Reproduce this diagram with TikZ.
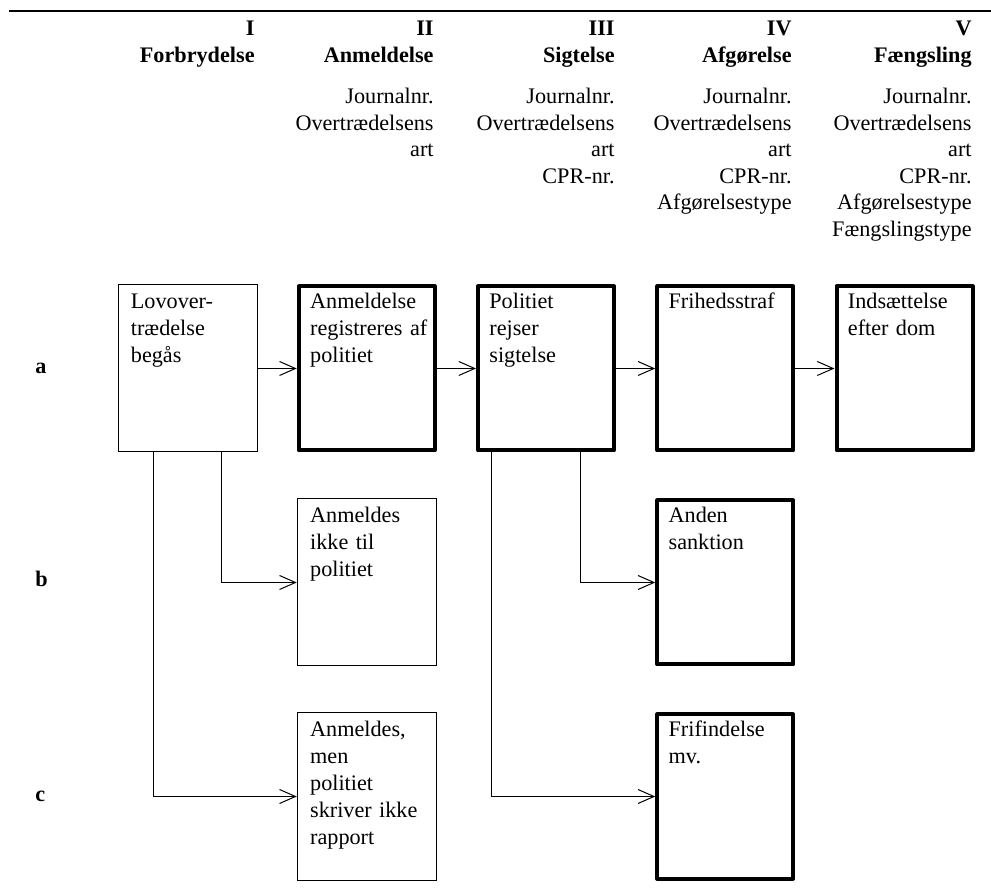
\documentclass[tikz,border=0pt]{standalone}
\usepackage{fontspec}
\setmainfont{Liberation Serif}
\usetikzlibrary{arrows.meta}
\begin{document}
\begin{tikzpicture}[x=0.5pt,y=-0.5pt,
  every node/.style={font=\fontsize{11.1}{13.4}\selectfont, inner sep=0pt},
  thinbox/.style={draw, line width=0.5pt, minimum width=69.5pt, minimum height=83.5pt},
  thickbox/.style={draw, line width=2pt, line join=round, minimum width=68pt, minimum height=82pt},
  boxtext/.style={anchor=base west, text width=64pt, align=left},
  head/.style={anchor=base east, text width=80pt, align=right, font=\fontsize{11.1}{13.5}\selectfont\bfseries},
  info/.style={anchor=base east, text width=80pt, align=right, font=\fontsize{11.1}{13.25}\selectfont},
  rowlab/.style={anchor=base west, font=\fontsize{11.1}{13.4}\selectfont\bfseries},
  conn/.style={line width=0.5pt, -{Straight Barb[length=8pt,width=7pt]}}
]
\useasboundingbox (0,0) rectangle (991,892);
% top rule
\coordinate (rl) at (9,11);
\coordinate (rr) at (991,11);
\draw[line width=1pt] (rl) -- (rr);

% headers
\node[head] (h1) at (255,36) {I\\Forbrydelse};
\node[head] (h2) at (434,36) {II\\Anmeldelse};
\node[head] (h3) at (615,36) {III\\Sigtelse};
\node[head] (h4) at (792,36) {IV\\Afgørelse};
\node[head] (h5) at (972,36) {V\\Fængsling};

\node[info] (i2) at (434,104) {Journalnr.\\Overtrædelsens\\art};
\node[info] (i3) at (615,104) {Journalnr.\\Overtrædelsens\\art\\CPR-nr.};
\node[info] (i4) at (792,104) {Journalnr.\\Overtrædelsens\\art\\CPR-nr.\\Afgørelsestype};
\node[info] (i5) at (972,104) {Journalnr.\\Overtrædelsens\\art\\CPR-nr.\\Afgørelsestype\\Fængslingstype};

% row labels
\node[rowlab] (ra) at (35,374) {a};
\node[rowlab] (rb) at (35,587) {b};
\node[rowlab] (rc) at (35,801) {c};

% boxes
\node[thinbox]  (a1) at (187.5,368.5) {};
\node[thickbox] (a2) at (366.75,368.5) {};
\node[thickbox] (a3) at (546,368.5) {};
\node[thickbox] (a4) at (725.25,368.5) {};
\node[thickbox] (a5) at (904.5,368.5) {};
\node[thinbox]  (b2) at (366.75,582.5) {};
\node[thinbox]  (c2) at (366.75,796.5) {};
\node[thickbox] (b4) at (725.25,582.5) {};
\node[thickbox] (c4) at (725.25,796.5) {};

% box texts
\node[boxtext] (ta1) at ([xshift=6.5pt,yshift=-12.25pt]a1.north west) {Lovover-\\trædelse\\begås};
\node[boxtext] (ta2) at ([xshift=6.5pt,yshift=-12.25pt]a2.north west) {Anmeldelse\\registreres af\\politiet};
\node[boxtext] (ta3) at ([xshift=6.5pt,yshift=-12.25pt]a3.north west) {Politiet\\rejser\\sigtelse};
\node[boxtext] (ta4) at ([xshift=6.5pt,yshift=-12.25pt]a4.north west) {Frihedsstraf};
\node[boxtext] (ta5) at ([xshift=6.5pt,yshift=-12.25pt]a5.north west) {Indsættelse\\efter dom};
\node[boxtext] (tb2) at ([xshift=6.5pt,yshift=-12.25pt]b2.north west) {Anmeldes\\ikke til\\politiet};
\node[boxtext] (tc2) at ([xshift=6.5pt,yshift=-12.25pt]c2.north west) {Anmeldes,\\men\\politiet\\skriver ikke\\rapport};
\node[boxtext] (tb4) at ([xshift=6.5pt,yshift=-12.25pt]b4.north west) {Anden\\sanktion};
\node[boxtext] (tc4) at ([xshift=6.5pt,yshift=-12.25pt]c4.north west) {Frifindelse\\mv.};

% connectors
\draw[conn] (a1.east) -- (a2.west);
\draw[conn] (a2.east) -- (a3.west);
\draw[conn] (a3.east) -- (a4.west);
\draw[conn] (a4.east) -- (a5.west);
\draw[conn] ([xshift=17pt]a1.south) |- (b2.west);
\draw[conn] ([xshift=-17.25pt]a1.south) |- (c2.west);
\draw[conn] ([xshift=17pt]a3.south) |- (b4.west);
\draw[conn] ([xshift=-27.5pt]a3.south) |- (c4.west);
\end{tikzpicture}
\end{document}
